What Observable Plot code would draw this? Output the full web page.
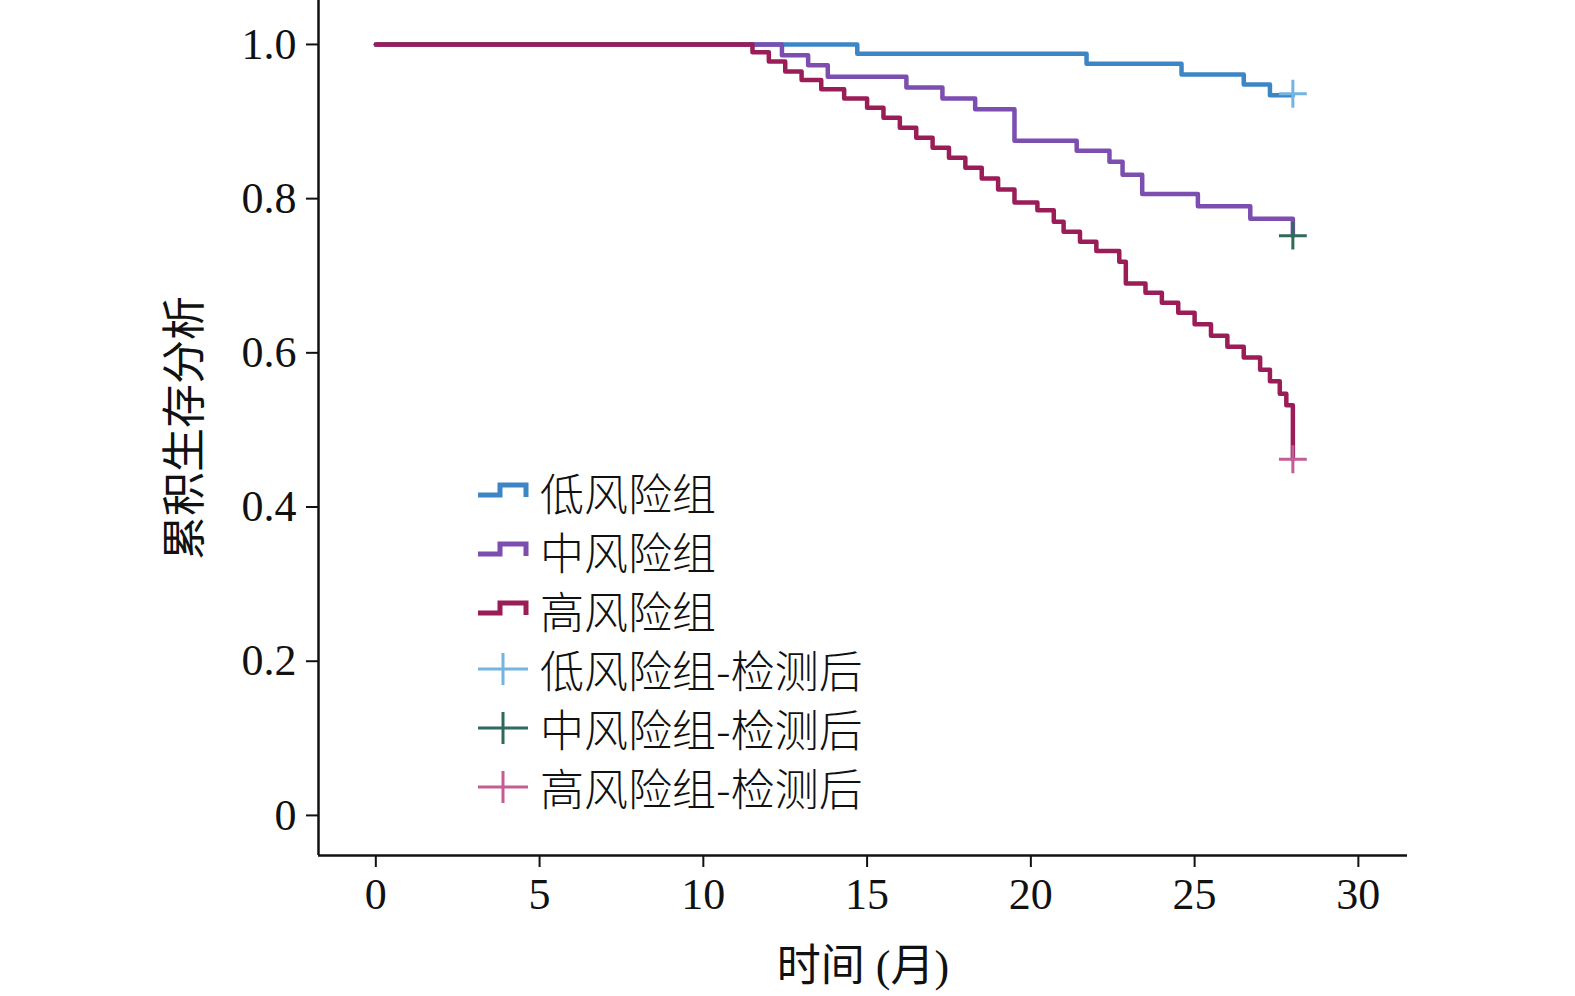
<!DOCTYPE html>
<html><head><meta charset="utf-8">
<script src="https://cdn.jsdelivr.net/npm/d3@7"></script>
<script src="https://cdn.jsdelivr.net/npm/@observablehq/plot@0.6"></script>
<style>
body{margin:0;background:#fff;}
#wrap{position:relative;width:1575px;height:996px;}
#legend{position:absolute;left:476px;top:462px;font-size:44px;color:#111;}
.row{height:59px;display:flex;align-items:center;}
.row svg{margin-right:8px;}
svg text{font-family:'Liberation Serif','Noto Sans CJK SC',serif;}
</style></head><body>
<div id="wrap"><div id="chart"></div><div id="legend"></div></div>
<script>
const groups = ["低风险组","中风险组","高风险组"];
const censorLabels = ["低风险组-检测后","中风险组-检测后","高风险组-检测后"];
const lowT = [0,14.7,21.7,24.6,26.5,27.3,28];
const lowS = [1,0.988,0.975,0.961,0.948,0.934,0.934];
const midT = [0,12.4,13.2,13.8,16.2,17.3,18.3,19.5,21.4,22.4,22.8,23.4,25.1,26.7,28,28];
const midS = [1,0.986,0.973,0.958,0.944,0.930,0.916,0.875,0.862,0.848,0.831,0.806,0.790,0.774,0.774,0.752];
const highT = [0,11.5,12,12.5,13,13.6,14.3,15,15.5,16,16.5,17,17.5,18,18.5,19,19.5,20.2,20.7,21,21.5,22,22.7,22.9,23.5,24,24.5,25,25.5,26,26.5,27,27.3,27.6,27.8,28,28];
const highS = [1,0.99,0.978,0.965,0.954,0.942,0.930,0.918,0.905,0.892,0.879,0.866,0.853,0.840,0.826,0.812,0.795,0.785,0.770,0.757,0.744,0.732,0.718,0.690,0.678,0.665,0.652,0.637,0.622,0.608,0.594,0.578,0.563,0.547,0.532,0.512,0.462];
const censorT = [28,28,28];
const censorS = [0.936,0.752,0.462];
const lineColors = ["#3d86c6","#7c4eaf","#9a1d58"];
const censorColors = ["#74b4e2","#2f6b5c","#c35d94"];

const series = [[lowT,lowS],[midT,midS],[highT,highS]];
const lines = series.flatMap(([t,s],g)=>t.map((x,i)=>({t:x,s:s[i],g:groups[g]})));
const cens = censorT.map((t,i)=>({t,s:censorS[i],c:censorColors[i]}));
const ff = "'Liberation Serif', 'Noto Sans CJK SC', serif";

const plot = Plot.plot({
  width:1575,height:996,marginLeft:318,marginRight:168,marginTop:0,marginBottom:141,
  style:{fontFamily:ff,fontSize:"44px",color:"#111",background:"#fff"},
  x:{domain:[-1.75,31.5],ticks:[0,5,10,15,20,25,30]},
  y:{domain:[-0.052,1.057],ticks:[0,0.2,0.4,0.6,0.8,1.0]},
  marks:[
    Plot.axisX({ticks:[0,5,10,15,20,25,30],tickSize:12,tickPadding:10,stroke:"#111",strokeWidth:2,fontSize:44,label:"时间 (月)",labelAnchor:"center",labelArrow:"none",labelOffset:125,fontFamily:ff}),
    Plot.axisY({ticks:[0,0.2,0.4,0.6,0.8,1.0],tickSize:12,tickPadding:10,stroke:"#111",strokeWidth:2,fontSize:44,tickFormat:d=>d===0?"0":d.toFixed(1),label:"累积生存分析",labelAnchor:"center",labelArrow:"none",labelOffset:150,fontFamily:ff}),
    Plot.ruleX([-1.75],{stroke:"#111",strokeWidth:2.5}),
    Plot.ruleY([-0.052],{stroke:"#111",strokeWidth:2.5}),
    Plot.line(lines,{x:"t",y:"s",z:"g",stroke:d=>lineColors[groups.indexOf(d.g)],strokeWidth:4.5,curve:"step-after"}),
    Plot.dot(cens,{x:"t",y:"s",symbol:"plus",r:9,stroke:"c",strokeWidth:3})
  ]
});
document.getElementById("chart").appendChild(plot);

const leg=document.getElementById("legend");
groups.forEach((g,i)=>{
  leg.insertAdjacentHTML("beforeend",`<div class="row"><svg width="56" height="30"><path d="M2,18 H24 V8 H50 V20" fill="none" stroke="${lineColors[i]}" stroke-width="5"/></svg><span style="font-family:'Noto Sans CJK SC';font-weight:300">${g}</span></div>`);
});
censorLabels.forEach((g,i)=>{
  leg.insertAdjacentHTML("beforeend",`<div class="row"><svg width="56" height="40"><path d="M2,20 H52 M27,4 V36" fill="none" stroke="${censorColors[i]}" stroke-width="3"/></svg><span style="font-family:'Noto Sans CJK SC';font-weight:300">${g}</span></div>`);
});
</script></body></html>
